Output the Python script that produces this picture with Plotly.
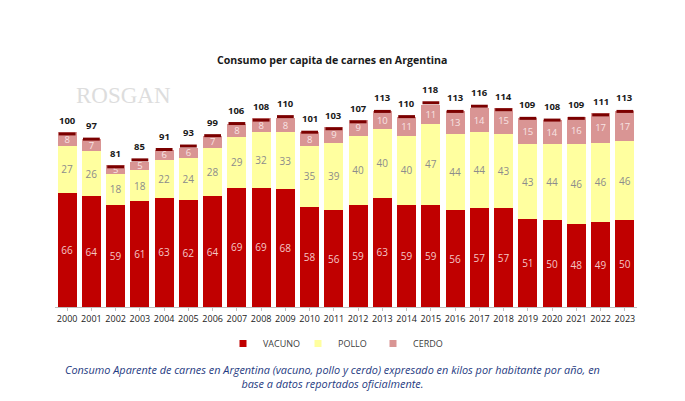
import plotly.graph_objects as go

years = [str(y) for y in range(2000, 2024)]
vacuno = [66, 64, 59, 61, 63, 62, 64, 69, 69, 68, 58, 56, 59, 63, 59, 59, 56, 57, 57, 51, 50, 48, 49, 50]
pollo = [27, 26, 18, 18, 22, 24, 28, 29, 32, 33, 35, 39, 40, 40, 40, 47, 44, 44, 43, 43, 44, 46, 46, 46]
cerdo = [8, 7, 5, 5, 6, 6, 7, 8, 8, 8, 8, 9, 9, 10, 11, 11, 13, 14, 15, 15, 14, 16, 17, 17]
totales = [100, 97, 81, 85, 91, 93, 99, 106, 108, 110, 101, 103, 107, 113, 110, 118, 113, 116, 114, 109, 108, 109, 111, 113]

series = [("VACUNO", vacuno, "#C00000", "#F4C7C7", 10),
          ("POLLO", pollo, "#FFFF9F", "#8C8C8C", 10),
          ("CERDO", cerdo, "#D99594", "#F8E4E4", 9.5)]

fig = go.Figure()
for name, vals, col, tcol, tsize in series:
    fig.add_bar(x=years, y=vals, name=name, marker=dict(color=col, line=dict(width=0)),
                text=vals, textposition="inside", insidetextanchor="middle",
                constraintext="none", textangle=0, showlegend=False,
                textfont=dict(color=tcol, size=tsize, family="Open Sans"))
# legend entries with small square symbols
for name, vals, col, tcol, tsize in series:
    fig.add_scatter(x=[years[0]], y=[None], mode="markers", name=name,
                    marker=dict(symbol="square", size=7, color=col))
# dark cap on top of each stack
fig.add_scatter(x=years, y=totales, mode="markers", showlegend=False, hoverinfo="skip",
                marker=dict(symbol="line-ew", size=12, line=dict(color="#7B0000", width=3)))
# totals (x given as category index)
for i, t in enumerate(totales):
    fig.add_annotation(x=i, y=t, text=f"<b>{t}</b>", showarrow=False, yanchor="bottom",
                       yshift=5, font=dict(color="#1A1A1A", size=9.5, family="Open Sans"))

fig.update_layout(
    width=685, height=401,
    barmode="stack", bargap=0.22,
    paper_bgcolor="white", plot_bgcolor="white",
    margin=dict(l=55, r=48, t=82, b=94),
    font=dict(family="Open Sans", color="#333333"),
    xaxis=dict(type="category", categoryorder="array", categoryarray=years,
               range=[-0.5, len(years) - 0.5],
               showgrid=False, showline=True, linecolor="#BFBFBF", ticks="outside",
               tickcolor="#BFBFBF", ticklen=3, tickangle=0, automargin=False,
               tickfont=dict(size=9, color="#222222")),
    yaxis=dict(visible=False, range=[0, 130]),
    legend=dict(orientation="h", x=(245 - 22 - 55) / 582, xanchor="left", y=-(329 - 307) / 225,
                yanchor="top", font=dict(size=9, color="#404040"), itemwidth=30,
                entrywidth=30, entrywidthmode="pixels", traceorder="normal"),
    showlegend=True,
)
fig.add_annotation(text="<b>Consumo per capita de carnes en Argentina</b>", xref="paper",
                   x=(332 - 55) / 582, xanchor="center",
                   yref="paper", y=1 + (82 - 60) / 225, yanchor="middle", showarrow=False,
                   font=dict(size=10.6, color="#1A1A1A", family="Open Sans"))
fig.add_annotation(text="ROSGAN", xref="paper", x=(74 - 55) / 582, xanchor="left",
                   yref="paper", y=1 - (95 - 82) / 225, yanchor="middle", showarrow=False,
                   font=dict(size=23, color="#DDDDDD", family="Liberation Serif"))
fig.add_annotation(text="<i>Consumo Aparente de carnes en Argentina (vacuno, pollo y cerdo) expresado en kilos por habitante por año, en<br>base a datos reportados oficialmente.</i>",
                   xref="paper", x=(332 - 55) / 582, xanchor="center",
                   yref="paper", y=-(376 - 307) / 225, yanchor="middle", showarrow=False,
                   align="center", font=dict(size=10.9, color="#1F3B82", family="Open Sans"))

fig.write_html("out.html")
